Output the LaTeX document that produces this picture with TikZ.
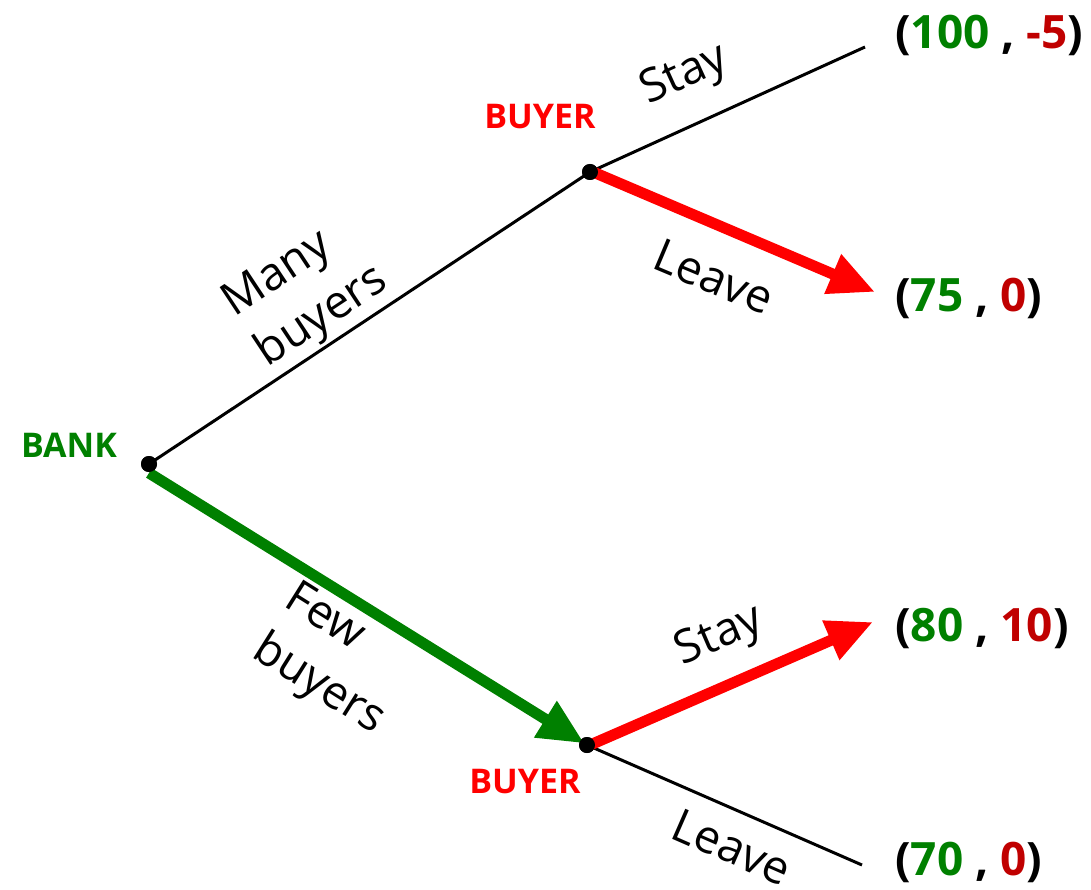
\documentclass[tikz,border=0pt]{standalone}
\usepackage{fontspec}
\setmainfont{Open Sans}
\usetikzlibrary{arrows.meta}
\definecolor{bankgreen}{RGB}{0,128,0}
\definecolor{buyerred}{RGB}{255,0,0}
\definecolor{payred}{RGB}{192,0,0}
\begin{document}
\begin{tikzpicture}[x=1pt,y=-1pt,
  dot/.style={circle,fill=black,inner sep=0pt,minimum size=16pt},
  player/.style={font=\fontsize{34}{38}\selectfont\bfseries,inner sep=0pt},
  payoff/.style={font=\fontsize{46}{50}\selectfont\bfseries,anchor=west,inner sep=0pt},
  move/.style={font=\fontsize{46}{60}\selectfont,inner sep=0pt,align=left},
  plain/.style={line width=3pt},
  chosen/.style={line width=11pt,-{Triangle[length=46pt,width=40pt]}}]
\useasboundingbox (0,0) rectangle (1091,890);
% decision nodes
\node[dot] (bank) at (149,464) {};
\node[dot] (b1) at (590,172) {};
\node[dot] (b2) at (587,745) {};
% terminal points
\coordinate (t1) at (865,47);
\coordinate (t2) at (875,292);
\coordinate (t3) at (873,622);
\coordinate (t4) at (862,865);
% branches
\draw[plain] (bank.center) -- (b1.center);
\draw[plain] (b1.center) -- (t1);
\draw[plain] (b2.center) -- (t4);
\draw[chosen,draw=bankgreen,fill=bankgreen,shorten >=3pt] ([yshift=-9pt]bank.center) -- (b2.center);
\draw[chosen,draw=buyerred,fill=buyerred] ([xshift=3pt]b1.center) -- (t2);
\draw[chosen,draw=buyerred,fill=buyerred] ([xshift=3pt]b2.center) -- (t3);
% redraw nodes on top
\fill (bank) circle (8pt);
\fill (b1) circle (8pt);
\fill (b2) circle (8pt);
% players
\node[player,text=bankgreen] (lbank) at (69,445) {BANK};
\node[player,text=buyerred] (lb1) at (540,117) {BUYER};
\node[player,text=buyerred] (lb2) at (525,782) {BUYER};
% moves
\node[move,rotate=33.5] (m1) at (306,293) {Many\\buyers};
\node[move,rotate=-32.1] (m2) at (334,661) {Few\\buyers};
\node[move,rotate=24.4] (m3) at (685,76) {Stay};
\node[move,rotate=-22.8] (m4) at (714,277) {Leave};
\node[move,rotate=23.3] (m5) at (720,637) {Stay};
\node[move,rotate=-23.6] (m6) at (732,847) {Leave};
% payoffs
\node[payoff] (p1) at (895,35) {(\textcolor{bankgreen}{100} , \textcolor{payred}{-5})};
\node[payoff] (p2) at (895,298) {(\textcolor{bankgreen}{75} , \textcolor{payred}{0})};
\node[payoff] (p3) at (895,628) {(\textcolor{bankgreen}{80} , \textcolor{payred}{10})};
\node[payoff] (p4) at (895,862) {(\textcolor{bankgreen}{70} , \textcolor{payred}{0})};
\end{tikzpicture}
\end{document}
